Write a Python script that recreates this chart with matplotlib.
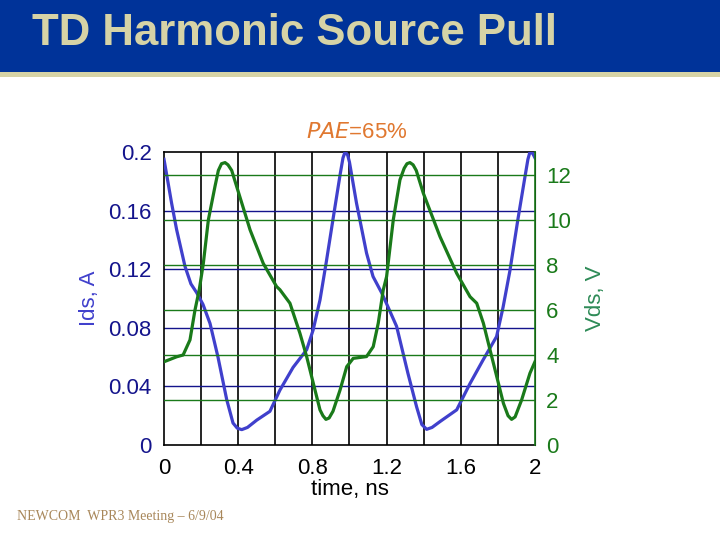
import matplotlib
matplotlib.use("Agg")
import matplotlib.pyplot as plt
from matplotlib.patches import Rectangle

plt.rcParams['font.family'] = ['Liberation Sans', 'DejaVu Sans']

# current waveform, Ids (A)
t_ids = [0, 0.041, 0.068, 0.113, 0.145, 0.176, 0.21, 0.248, 0.291, 0.338, 0.372,
         0.395, 0.419, 0.45, 0.5, 0.571, 0.625, 0.696, 0.769, 0.804, 0.841, 0.875,
         0.911, 0.95, 0.965, 0.976, 0.99, 1.0, 1.038, 1.092, 1.127, 1.173, 1.191,
         1.254, 1.315, 1.362, 1.39, 1.416, 1.445, 1.488, 1.578, 1.65, 1.72, 1.793,
         1.828, 1.865, 1.908, 1.946, 1.962, 1.973, 1.988, 2.0]
ids = [0.195, 0.165, 0.147, 0.122, 0.110, 0.104, 0.096, 0.083, 0.060, 0.031, 0.015,
       0.0115, 0.0105, 0.012, 0.017, 0.023, 0.0375, 0.053, 0.065, 0.0785, 0.099, 0.125,
       0.154, 0.185, 0.196, 0.2, 0.198, 0.193, 0.165, 0.131, 0.115, 0.104, 0.099,
       0.081, 0.049, 0.026, 0.014, 0.0107, 0.012, 0.016, 0.024, 0.042, 0.058, 0.074,
       0.094, 0.119, 0.154, 0.183, 0.195, 0.2, 0.199, 0.196]

# voltage waveform, Vds (V)
t_vds = [0, 0.068, 0.103, 0.14, 0.167, 0.19, 0.212, 0.239, 0.275, 0.293, 0.31,
         0.329, 0.345, 0.365, 0.392, 0.464, 0.535, 0.607, 0.625, 0.679, 0.733,
         0.769, 0.805, 0.841, 0.857, 0.873, 0.89, 0.911, 0.949, 0.985, 1.02, 1.092,
         1.128, 1.155, 1.182, 1.2, 1.236, 1.272, 1.295, 1.31, 1.326, 1.343, 1.36,
         1.398, 1.488, 1.578, 1.65, 1.686, 1.722, 1.758, 1.794, 1.83, 1.855, 1.874,
         1.893, 1.928, 1.973, 2.0]
vds = [3.7, 3.92, 4.0, 4.67, 6.0, 6.9, 8.07, 10.0, 11.5, 12.2, 12.5,
       12.55, 12.45, 12.2, 11.48, 9.56, 8.07, 7.04, 6.9, 6.3, 4.96,
       3.93, 2.74, 1.56, 1.3, 1.14, 1.2, 1.5, 2.44, 3.48, 3.85, 3.93,
       4.37, 5.41, 6.89, 7.48, 10.0, 11.78, 12.3, 12.5, 12.55, 12.45, 12.2,
       11.19, 9.26, 7.63, 6.59, 6.3, 5.41, 4.22, 3.04, 1.85, 1.3, 1.14,
       1.25, 2.0, 3.19, 3.7]

x_ticks = [0, 0.4, 0.8, 1.2, 1.6, 2]
x_labels = ["0", "0.4", "0.8", "1.2", "1.6", "2"]
ids_ticks = [0, 0.04, 0.08, 0.12, 0.16, 0.2]
ids_labels = ["0", "0.04", "0.08", "0.12", "0.16", "0.2"]
vds_ticks = [0, 2, 4, 6, 8, 10, 12]

navy = '#14148c'
blue = '#4040cc'
green = '#1a7a1a'

fig = plt.figure(figsize=(7.2, 5.4), dpi=100)

# slide header
fig.patches.append(Rectangle((0, 0.866), 1, 0.134, transform=fig.transFigure,
                             facecolor='#003399', edgecolor='none'))
fig.patches.append(Rectangle((0, 0.858), 1, 0.009, transform=fig.transFigure,
                             facecolor='#d6d3a6', edgecolor='none'))
fig.text(0.044, 0.938, "TD Harmonic Source Pull", color='#d6d3a6',
         fontsize=31.5, fontweight='bold', va='center', ha='left')
fig.text(0.024, 0.043, "NEWCOM  WPR3 Meeting \u2013 6/9/04", color='#a8875a',
         fontsize=10, family='Liberation Serif', va='center')

ax1 = fig.add_axes([0.2278, 0.1759, 0.5152, 0.5426])
ax2 = ax1.twinx()

ax1.set_xlim(0, 2)
ax1.set_ylim(0, 0.2)
ax2.set_ylim(0, 13.02)

# vertical grid (black)
for xv in [0.2 * i for i in range(1, 10)]:
    ax1.axvline(xv, color='black', lw=1.2, zorder=1)
# horizontal grids
for yv in ids_ticks[1:-1]:
    ax1.axhline(yv, color=navy, lw=1.0, zorder=1)
for yv in vds_ticks[1:]:
    ax2.axhline(yv, color=green, lw=1.0, zorder=1)

ax1.plot(t_ids, ids, color=blue, lw=2.3, zorder=3)
ax2.plot(t_vds, vds, color=green, lw=2.3, zorder=3)

ax1.set_xticks(x_ticks)
ax1.set_xticklabels(x_labels)
ax1.set_yticks(ids_ticks)
ax1.set_yticklabels(ids_labels)
ax2.set_yticks(vds_ticks)

ax1.tick_params(axis='x', length=0, pad=9, labelsize=16, colors='black')
ax1.tick_params(axis='y', length=0, pad=9, labelsize=16, labelcolor=navy)
ax2.tick_params(axis='y', length=0, pad=8, labelsize=16, labelcolor=green)

for s in ['left', 'bottom', 'top']:
    ax1.spines[s].set_color('black')
    ax1.spines[s].set_linewidth(1.2)
ax2.spines['right'].set_color(green)
ax2.spines['right'].set_linewidth(1.2)
for s in ['left', 'bottom', 'top']:
    ax2.spines[s].set_visible(False)

ax1.set_xlabel("time, ns", fontsize=16, labelpad=0)
ax1.set_ylabel("Ids, A", fontsize=16, color=blue, labelpad=6)
ax2.set_ylabel("Vds, V", fontsize=16, color='#2e8b57', labelpad=10)

fig.text(0.496, 0.755, "$\\it{PAE}$=65%", color='#e07830', fontsize=16,
         ha='center', va='center')

fig.savefig("out.png", dpi=100)
